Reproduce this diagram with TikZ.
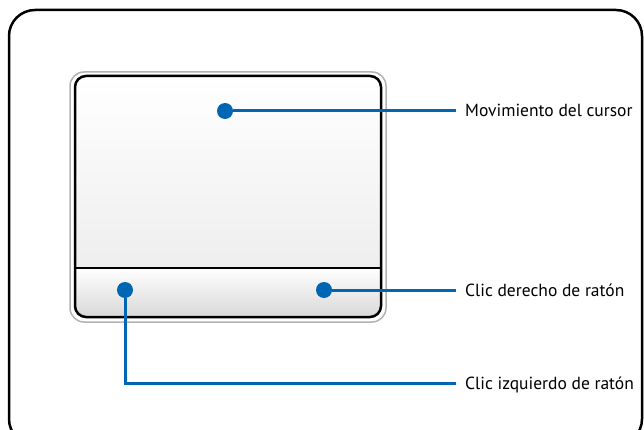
\documentclass[tikz,border=0pt]{standalone}
\usepackage{fontspec}
\setmainfont{PT Sans}
\usetikzlibrary{positioning, calc}
\definecolor{Pointer}{HTML}{0066B3}
\definecolor{Rim}{HTML}{B2B2B2}
\definecolor{Surface}{HTML}{EEEEEE}
\definecolor{Button}{HTML}{D8D8D8}
\tikzset{
    frame/.style={draw=black, line width=2.5pt, rounded corners=26pt},
    rim/.style={draw=Rim, line width=1.5pt, rounded corners=14pt},
    padedge/.style={draw=black, line width=2.5pt, rounded corners=11pt},
    dot/.style={circle, fill=Pointer, inner sep=0pt, minimum size=16pt},
    lead/.style={draw=Pointer, line width=3pt},
    padtext/.style={anchor=west, inner xsep=9pt, inner ysep=0pt, text height=12.5pt, text depth=0.5pt, font=\fontsize{17.5}{20}\selectfont},
}

\begin{document}
\begin{tikzpicture}[x=1pt, y=-1pt]
        \useasboundingbox (0,0) rectangle (644,430);
        \begin{scope}
            \clip (0,0) rectangle (644,430);
            \draw[frame] (9,10) rectangle (642,445);
        \end{scope}

        % Touchpad
        \draw[rim] (70,72) rectangle (386,322);
        \begin{scope}
            \clip[rounded corners=11pt] (75,76) rectangle (381,317);
            \shade[top color=white, middle color=white, bottom color=Surface] (75,76) rectangle (381,268);
            \shade[top color=white, bottom color=Button] (75,268) rectangle (381,317);
        \end{scope}
        \draw[padedge] (75,76) rectangle (381,317);
        \draw[line width=2pt] (75,268) -- (381,268);

        % Dots
        \node[dot] (move) at (225,111) {};
        \node[dot] (rightbtn) at (324,290) {};
        \node[dot] (leftbtn) at (125,290) {};

        % Labels
        \node[padtext] (movetxt) at (456,111) {Movimiento del cursor};
        \node[padtext] (righttxt) at (456,290) {Clic derecho de ratón};
        \node[padtext] (lefttxt) at (456,383) {Clic izquierdo de ratón};

        \draw[lead] (move) -- (movetxt.west);
        \draw[lead] (rightbtn) -- (righttxt.west);
        \draw[lead] (leftbtn) |- (lefttxt.west);
    \end{tikzpicture}
\end{document}
